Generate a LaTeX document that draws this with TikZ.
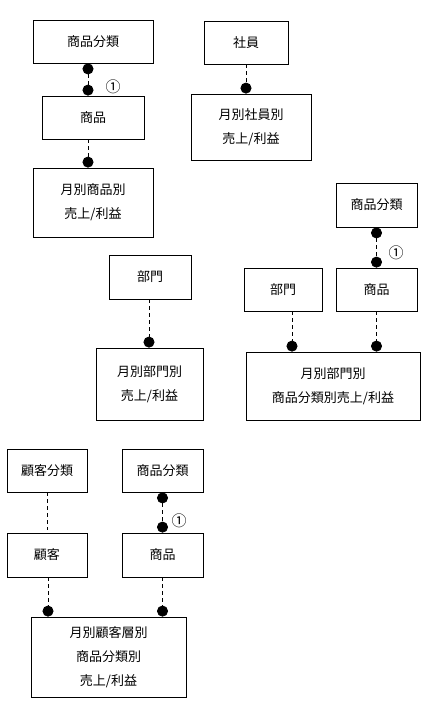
\documentclass[tikz,border=0pt]{standalone}
\usepackage{fontspec}
\newfontfamily\jpfont{Noto Sans CJK JP}
\usetikzlibrary{arrows.meta}

\begin{document}
\begin{tikzpicture}[x=1pt,y=-1pt,
  box/.style={draw,line width=0.8pt,inner sep=0pt,align=center,
    font=\jpfont\fontsize{13}{24}\selectfont},
  rel/.style={line width=0.8pt,dash pattern=on 4pt off 3pt},
  dot/.style={-{Circle[length=11pt]}},
  dots/.style={{Circle[length=11pt]}-{Circle[length=11pt]}},
  num/.style={font=\jpfont\fontsize{15}{15}\selectfont,inner sep=0pt}]
\useasboundingbox (0,0) rectangle (428,710);

% 月別商品別
\node[box,minimum width=120pt,minimum height=43pt] (bunrui1) at (93,41.5) {商品分類};
\node[box,minimum width=102pt,minimum height=43pt] (shohin1) at (93,117.5) {商品};
\node[box,minimum width=120pt,minimum height=69pt] (uri1) at (93,202.5) {月別商品別\\売上/利益};
\draw[rel,dots] ([xshift=-5pt]bunrui1.south) -- ([xshift=-5pt]shohin1.north);
\draw[rel,dot] ([xshift=-5pt]shohin1.south) -- ([xshift=-5pt]uri1.north);
\node[num] (maru1) at ([xshift=20pt,yshift=9pt]shohin1.north) {①};

% 月別社員別
\node[box,minimum width=84pt,minimum height=43pt] (shain) at (246,42.5) {社員};
\node[box,minimum width=120pt,minimum height=66pt] (uri2) at (251,127) {月別社員別\\売上/利益};
\draw[rel,dot] (shain.south) -- (shain.south |- uri2.north);

% 月別部門別
\node[box,minimum width=82pt,minimum height=44pt] (bumon1) at (150,277) {部門};
\node[box,minimum width=107pt,minimum height=72pt] (uri3) at (149.5,384) {月別部門別\\売上/利益};
\draw[rel,dot] ([xshift=-1pt]bumon1.south) -- ([xshift=-1pt]bumon1.south |- uri3.north);

% 月別部門別商品分類別
\node[box,minimum width=81pt,minimum height=44pt] (bunrui2) at (376.5,205) {商品分類};
\node[box,minimum width=81pt,minimum height=43pt] (shohin2) at (376.5,289.5) {商品};
\node[box,minimum width=78pt,minimum height=43pt] (bumon2) at (283,289.5) {部門};
\node[box,minimum width=174pt,minimum height=68pt] (uri4) at (333,386) {月別部門別\\商品分類別売上/利益};
\draw[rel,dots] (bunrui2.south) -- (shohin2.north);
\draw[rel,dot] ([xshift=9pt]bumon2.south) -- ([xshift=9pt]bumon2.south |- uri4.north);
\draw[rel,dot] (shohin2.south) -- (shohin2.south |- uri4.north);
\node[num] (maru2) at ([xshift=19.5pt,yshift=15pt]shohin2.north) {①};

% 月別顧客層別商品分類別
\node[box,minimum width=80pt,minimum height=43pt] (kbunrui) at (47,470.5) {顧客分類};
\node[box,minimum width=81pt,minimum height=43pt] (bunrui3) at (162.5,470.5) {商品分類};
\node[box,minimum width=80pt,minimum height=44pt] (kokyaku) at (47,555) {顧客};
\node[box,minimum width=81pt,minimum height=44pt] (shohin3) at (162.5,555) {商品};
\node[box,minimum width=155pt,minimum height=80pt] (uri5) at (108.5,657) {月別顧客層別\\商品分類別\\売上/利益};
\draw[rel,shorten >=3pt] (kbunrui.south) -- (kokyaku.north);
\draw[rel,dots] (bunrui3.south) -- (shohin3.north);
\draw[rel,dot] ([xshift=1pt]kokyaku.south) -- ([xshift=1pt]kokyaku.south |- uri5.north);
\draw[rel,dot] (shohin3.south) -- (shohin3.south |- uri5.north);
\node[num] (maru3) at ([xshift=16.5pt,yshift=12pt]shohin3.north) {①};
\end{tikzpicture}
\end{document}
